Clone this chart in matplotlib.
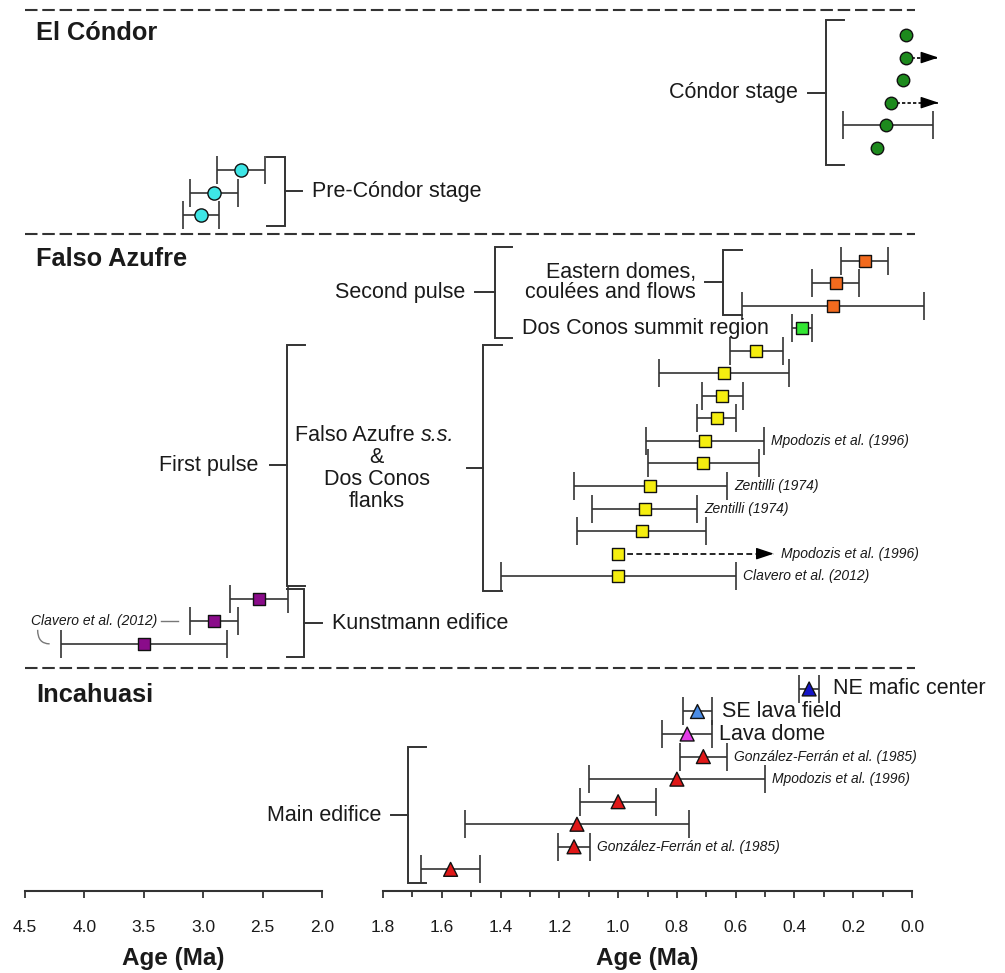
import numpy as np
import matplotlib
matplotlib.use('Agg')
import matplotlib.pyplot as plt
from matplotlib.path import Path
from matplotlib.patches import PathPatch
from matplotlib.ticker import MultipleLocator, FormatStrFormatter

plt.rcParams['font.family'] = ['Liberation Sans', 'DejaVu Sans']

# ---------------- data (ages in Ma, row = vertical slot) ----------------
# El Cóndor - Cóndor stage (young axis)
condor_rows = [0, 1, 2, 3, 4, 5]
condor_age = [0.02, 0.02, 0.03, 0.07, 0.09, 0.12]
condor_err_old = [0, 0, 0, 0, 0.145, 0]
condor_err_young = [0, 0, 0, 0, 0.16, 0]
condor_arrow_to = [None, -0.09, None, -0.09, None, None]

# El Cóndor - Pre-Cóndor stage (old axis)
precondor_rows = [6, 7, 8]
precondor_age = [2.68, 2.91, 3.02]
precondor_err = [0.2, 0.2, 0.15]

# Falso Azufre - second pulse, eastern domes
eastern_rows = [10, 11, 12]
eastern_age = [0.16, 0.26, 0.27]
eastern_err = [0.08, 0.08, 0.31]

# Falso Azufre - second pulse, Dos Conos summit region
summit_rows = [13]
summit_age = [0.375]
summit_err = [0.035]

# Falso Azufre s.s. & Dos Conos flanks
flanks_rows = [14, 15, 16, 17, 18, 19, 20, 21, 22, 23, 24]
flanks_age = [0.53, 0.64, 0.645, 0.665, 0.705, 0.71, 0.89, 0.91, 0.92, 1.0, 1.0]
flanks_err = [0.09, 0.22, 0.07, 0.065, 0.2, 0.19, 0.26, 0.18, 0.22, 0, 0.4]
flanks_arrow_to = [None] * 9 + [0.47, None]
flanks_refs = ['', '', '', '', 'Mpodozis et al. (1996)', '', 'Zentilli (1974)',
               'Zentilli (1974)', '', 'Mpodozis et al. (1996)', 'Clavero et al. (2012)']

# Falso Azufre - Kunstmann edifice (old axis)
kunstmann_rows = [25, 26, 27]
kunstmann_age = [2.53, 2.91, 3.5]
kunstmann_err = [0.245, 0.2, 0.7]
kunstmann_ref = 'Clavero et al. (2012)'

# Incahuasi
inca_rows = [29, 30, 31, 32, 33, 34, 35, 36, 37]
inca_age = [0.35, 0.73, 0.765, 0.71, 0.8, 1.0, 1.14, 1.15, 1.57]
inca_err = [0.035, 0.05, 0.085, 0.08, 0.3, 0.13, 0.38, 0.055, 0.1]
inca_colors = ['#1515c8', '#4a8ce6', '#e23ce6', '#e01818', '#e01818', '#e01818',
               '#e01818', '#e01818', '#e01818']
inca_names = ['NE mafic center', 'SE lava field', 'Lava dome']
inca_refs = ['', '', '', 'González-Ferrán et al. (1985)', 'Mpodozis et al. (1996)',
             '', '', 'González-Ferrán et al. (1985)', '']

old_lim = (4.5, 2.0)
young_lim = (1.8, 0.0)

# ---------------- layout ----------------
FIG_W, FIG_H = 1005, 973
ROW0, ROW_H = 35.0, 22.55      # pixel y of row 0 and pixel height per row
AXIS_Y = 891                   # pixel y of the age axes
LINE = '#333333'
TXT = '#1a1a1a'
LABEL_FS = 15.5
REF_FS = 10


def row_px(r):
    return ROW0 + ROW_H * r


fig = plt.figure(figsize=(FIG_W / 100, FIG_H / 100), dpi=100)
over = fig.add_axes([0, 0, 1, 1])
over.set_xlim(0, FIG_W)
over.set_ylim(FIG_H, 0)
over.axis('off')

ax_bottom = 1 - AXIS_Y / FIG_H
axL = fig.add_axes([25 / FIG_W, ax_bottom, (322 - 25) / FIG_W, AXIS_Y / FIG_H])
axR = fig.add_axes([383 / FIG_W, ax_bottom, (912 - 383) / FIG_W, AXIS_Y / FIG_H])

for ax, lim in ((axL, old_lim), (axR, young_lim)):
    ax.set_xlim(*lim)
    ax.set_ylim((AXIS_Y - ROW0) / ROW_H, (0 - ROW0) / ROW_H)
    ax.patch.set_visible(False)
    for s in ('left', 'right', 'top'):
        ax.spines[s].set_visible(False)
    ax.spines['bottom'].set_color(LINE)
    ax.spines['bottom'].set_linewidth(1.5)
    ax.set_yticks([])
    ax.xaxis.set_major_formatter(FormatStrFormatter('%.1f'))
    ax.tick_params(axis='x', which='both', direction='out', color=LINE,
                   width=1.3, labelsize=12.5, labelcolor=TXT, pad=16)
    ax.tick_params(axis='x', which='major', length=5)
    ax.tick_params(axis='x', which='minor', length=4)
    ax.annotate('Age (Ma)', xy=(0.5, 0), xycoords='axes fraction', xytext=(0, -67),
                textcoords='offset pixels', ha='center', va='center',
                fontsize=17.5, fontweight='bold', color=TXT)
axL.xaxis.set_major_locator(MultipleLocator(0.5))
axR.xaxis.set_major_locator(MultipleLocator(0.2))
axR.xaxis.set_minor_locator(MultipleLocator(0.1))


def draw_points(ax, rows, age, err_old, err_young, marker, colors, size):
    rows = np.asarray(rows, float)
    age = np.asarray(age, float)
    err_old = np.asarray(err_old, float)
    err_young = np.asarray(err_young, float)
    has = (err_old + err_young) > 0
    if has.any():
        eb = ax.errorbar(age[has], rows[has], xerr=[err_young[has], err_old[has]],
                         fmt='none', ecolor=LINE, elinewidth=1.2, capsize=10, capthick=1.2)
        for art in eb.get_children():
            art.set_clip_on(False)
    ax.scatter(age, rows, s=size ** 2, marker=marker, c=colors, edgecolors='#111111',
               linewidths=1.0, zorder=4, clip_on=False)


def draw_arrows(ax, rows, age, arrow_to, dash):
    for r, a, t in zip(rows, age, arrow_to):
        if t is None:
            continue
        ax.plot([a, t], [r, r], color='black', lw=1.2, ls=(0, dash), clip_on=False, zorder=2)
        ax.annotate('', xy=(t, r), xytext=(-14, 0), textcoords='offset pixels',
                    annotation_clip=False,
                    arrowprops=dict(arrowstyle='-|>,head_length=0.6,head_width=0.2',
                                    mutation_scale=18, color='black', lw=1,
                                    shrinkA=0, shrinkB=0))


def draw_refs(ax, rows, young_end, refs, gap=7):
    for r, x, ref in zip(rows, young_end, refs):
        if ref:
            ax.annotate(ref, xy=(x, r), xytext=(gap, 0), textcoords='offset pixels',
                        ha='left', va='center', fontsize=REF_FS, style='italic', color=TXT)


# El Cóndor
draw_points(axR, condor_rows, condor_age, condor_err_old, condor_err_young, 'o', '#1d8a1d', 9)
draw_arrows(axR, condor_rows, condor_age, condor_arrow_to, (2, 1.3))
draw_points(axL, precondor_rows, precondor_age, precondor_err, precondor_err, 'o', '#3ee6e6', 9.5)

# Falso Azufre
draw_points(axR, eastern_rows, eastern_age, eastern_err, eastern_err, 's', '#f26a1e', 9)
draw_points(axR, summit_rows, summit_age, summit_err, summit_err, 's', '#33e633', 9)
draw_points(axR, flanks_rows, flanks_age, flanks_err, flanks_err, 's', '#f5ee10', 9)
draw_arrows(axR, flanks_rows, flanks_age, flanks_arrow_to, (3.5, 2))
flank_ends = [t if t is not None else a - e
              for a, e, t in zip(flanks_age, flanks_err, flanks_arrow_to)]
draw_refs(axR, flanks_rows, flank_ends, flanks_refs)
axR.annotate('Dos Conos summit region', xy=(summit_age[0] + summit_err[0], summit_rows[0]),
             xytext=(-23, 0), textcoords='offset pixels', ha='right', va='center',
             fontsize=LABEL_FS, color=TXT)
draw_points(axL, kunstmann_rows, kunstmann_age, kunstmann_err, kunstmann_err, 's', '#8a0c8a', 9)


# reference label for the two older Kunstmann ages, with leaders
def to_px(ax, x, y):
    dx, dy = ax.transData.transform((x, y))
    return dx, FIG_H - dy


kx1, ky1 = to_px(axL, kunstmann_age[1] + kunstmann_err[1], kunstmann_rows[1])
kx2, ky2 = to_px(axL, kunstmann_age[2] + kunstmann_err[2], kunstmann_rows[2])
over.text(kx1 - 33, ky1, kunstmann_ref, ha='right', va='center', fontsize=REF_FS,
          style='italic', color=TXT)
over.plot([kx1 - 29, kx1 - 12], [ky1, ky1], color='#777777', lw=1.0)
curve = Path([(kx2 - 23, ky2 - 14), (kx2 - 23, ky2), (kx2 - 11, ky2)],
             [Path.MOVETO, Path.CURVE3, Path.CURVE3])
over.add_patch(PathPatch(curve, fill=False, ec='#777777', lw=1.0))

# Incahuasi
inca_young_end = [a - e for a, e in zip(inca_age, inca_err)]
draw_points(axR, inca_rows, inca_age, inca_err, inca_err, '^', inca_colors, 10)
for r, x, name, gap in zip(inca_rows, inca_young_end, inca_names, (14, 10, 7)):
    axR.annotate(name, xy=(x, r), xytext=(gap, 0), textcoords='offset pixels',
                 ha='left', va='center', fontsize=LABEL_FS, color=TXT)
draw_refs(axR, inca_rows, inca_young_end, inca_refs)

# ---------------- section separators and titles ----------------
for y in (10, 234, 668):
    over.plot([25, 915], [y, y], color=LINE, lw=1.5, ls=(0, (6, 2.3)))
for y, title in ((33, 'El Cóndor'), (259, 'Falso Azufre'), (695, 'Incahuasi')):
    over.text(36, y, title, ha='left', va='center', fontsize=18.3, fontweight='bold', color=TXT)


# ---------------- brackets ----------------
def bracket(x, r0, r1, arm, stem, lines, gap=10, spacing=21.5):
    y0, y1 = row_px(r0), row_px(r1)
    ym = (y0 + y1) / 2
    over.plot([x + arm, x, x, x + arm], [y0, y0, y1, y1], color=LINE, lw=1.4,
              solid_joinstyle='miter')
    over.plot([x, x + stem], [ym, ym], color=LINE, lw=1.4)
    ha = 'right' if stem < 0 else 'left'
    text_x = x + stem + (-gap if stem < 0 else gap)
    n = len(lines)
    for i, s in enumerate(lines):
        over.text(text_x, ym + (i - (n - 1) / 2) * spacing, s, ha=ha, va='center',
                  fontsize=LABEL_FS, color=TXT)
    return ym


bracket(826, -0.67, 5.77, 18, -18, ['Cóndor stage'])
bracket(285, 5.41, 8.47, -18, 17, ['Pre-Cóndor stage'])
bracket(495, 9.4, 13.42, 17, -20, ['Second pulse'])
bracket(722.7, 9.53, 12.42, 19, -18, ['Eastern domes,', 'coulées and flows'], gap=9,
        spacing=20.6)
ym_ss = bracket(483, 13.75, 24.66, 19, -16, [])
bracket(286.7, 13.75, 24.42, 18, -17, ['First pulse'], gap=11)
bracket(304, 24.58, 27.6, -17, 18, ['Kunstmann edifice'])
bracket(408.3, 31.56, 37.62, 18, -17, ['Main edifice'])

# centred block label between the first-pulse brackets, with italic "s.s."
block_x, block_dy = 376.7, 22
t1 = over.text(295, ym_ss - 1.5 * block_dy, 'Falso Azufre ', ha='left', va='center',
               fontsize=LABEL_FS, color=TXT)
over.annotate('s.s.', xy=(1, 0), xycoords=t1, ha='left', va='bottom',
              fontsize=LABEL_FS, style='italic', color=TXT)
for i, s in enumerate(['&', 'Dos Conos', 'flanks']):
    over.text(block_x, ym_ss + (i - 0.5) * block_dy, s, ha='center', va='center',
              fontsize=LABEL_FS, color=TXT)

fig.savefig('out.png', dpi=100, facecolor='white')
